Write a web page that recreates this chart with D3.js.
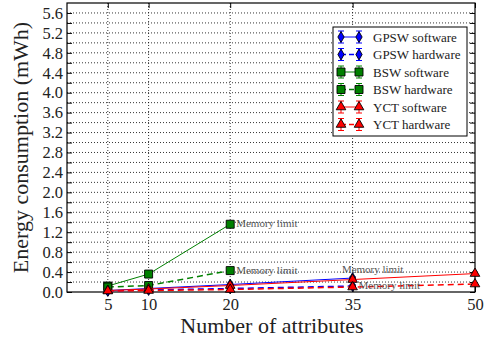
<!DOCTYPE html>
<html>
<head>
<meta charset="utf-8">
<script src="https://cdn.jsdelivr.net/npm/d3@7"></script>
<style>
  body { margin: 0; background: #fff; }
  text { font-family: "Liberation Serif", "DejaVu Serif", serif; }
</style>
</head>
<body>
<svg id="chart" width="486" height="337"></svg>
<script>
// x positions (number of attributes)
var attrs = [5, 10, 20, 35, 50];
var xTicks = [5, 10, 20, 35, 50];

// series values (mWh)
var gpswSoftware = [0.03, 0.07, 0.15, 0.28];
var gpswHardware = [0.02, 0.04, 0.07, 0.12];
var bswSoftware  = [0.12, 0.36, 1.36];
var bswHardware  = [0.10, 0.13, 0.43];
var yctSoftware  = [0.03, 0.06, 0.13, 0.25, 0.37];
var yctHardware  = [0.02, 0.03, 0.05, 0.10, 0.16];

var errSmall = 0.03;

var seriesNames = ["GPSW software", "GPSW hardware", "BSW software", "BSW hardware", "YCT software", "YCT hardware"];

// memory limit notes
var notes = [
  { x: 20, y: 1.36, side: "right" },
  { x: 20, y: 0.43, side: "right" },
  { x: 35, y: 0.28, side: "above" },
  { x: 35, y: 0.12, side: "right" }
];

var series = [
  { name: seriesNames[0], vals: gpswSoftware, color: "#0000ff", shape: "diamond", dash: null },
  { name: seriesNames[1], vals: gpswHardware, color: "#0000ff", shape: "diamond", dash: "6,4" },
  { name: seriesNames[2], vals: bswSoftware,  color: "#008000", shape: "square",  dash: null },
  { name: seriesNames[3], vals: bswHardware,  color: "#008000", shape: "square",  dash: "6,4" },
  { name: seriesNames[4], vals: yctSoftware,  color: "#ff0000", shape: "triangle", dash: null },
  { name: seriesNames[5], vals: yctHardware,  color: "#ff0000", shape: "triangle", dash: "6,4" }
];

var svg = d3.select("#chart");
var mLeft = 67, mRight = 475, mTop = 3, mBottom = 292;

var x = d3.scaleLinear().domain([0, 50]).range([mLeft, mRight]);
var y = d3.scaleLinear().domain([0, 5.8]).range([mBottom, mTop]);

var yTicks = d3.range(0, 29).map(function (i) { return +(i * 0.2).toFixed(1); });

// grid
var grid = svg.append("g");
grid.selectAll("line.gy").data(yTicks.filter(function (d) { return d > 0; }))
  .enter().append("line")
  .attr("x1", mLeft).attr("x2", mRight)
  .attr("y1", function (d) { return y(d); }).attr("y2", function (d) { return y(d); })
  .attr("stroke", "#000").attr("stroke-width", 0.8).attr("stroke-dasharray", "1,2");
grid.selectAll("line.gx").data(xTicks.filter(function (d) { return d < 50; }))
  .enter().append("line")
  .attr("y1", mTop).attr("y2", mBottom)
  .attr("x1", function (d) { return x(d); }).attr("x2", function (d) { return x(d); })
  .attr("stroke", "#000").attr("stroke-width", 0.8).attr("stroke-dasharray", "1,2");

// axes with inward ticks
var axB = svg.append("g").attr("transform", "translate(0," + mBottom + ")")
  .call(d3.axisBottom(x).tickValues(xTicks).tickSize(-5).tickPadding(6).tickFormat(d3.format("d")));
var axT = svg.append("g").attr("transform", "translate(0," + mTop + ")")
  .call(d3.axisTop(x).tickValues(xTicks).tickSize(-5).tickFormat(""));
var axL = svg.append("g").attr("transform", "translate(" + mLeft + ",0)")
  .call(d3.axisLeft(y).tickValues(yTicks).tickSize(-5).tickPadding(4)
    .tickFormat(function (d, i) { return i % 2 === 0 ? d3.format(".1f")(d) : ""; }));
var axR = svg.append("g").attr("transform", "translate(" + mRight + ",0)")
  .call(d3.axisRight(y).tickValues(yTicks).tickSize(-5).tickFormat(""));

[axB, axT, axL, axR].forEach(function (g) {
  g.select(".domain").remove();
  g.selectAll(".tick line").attr("stroke", "#000").attr("stroke-width", 1);
  g.selectAll("text").attr("font-family", "Liberation Serif, DejaVu Serif, serif")
    .attr("font-size", 16.5).attr("fill", "#222");
});

svg.append("rect").attr("x", mLeft).attr("y", mTop)
  .attr("width", mRight - mLeft).attr("height", mBottom - mTop)
  .attr("fill", "none").attr("stroke", "#000").attr("stroke-width", 1.2);

// axis titles
svg.append("text").attr("x", 272).attr("y", 333)
  .attr("text-anchor", "middle").attr("font-size", 22).attr("fill", "#222")
  .text("Number of attributes");
svg.append("text").attr("transform", "translate(28," + ((mTop + mBottom) / 2) + ") rotate(-90)")
  .attr("text-anchor", "middle").attr("font-size", 22).attr("fill", "#222")
  .text("Energy consumption (mWh)");

function marker(g, shape, color, cx, cy) {
  var s;
  if (shape === "diamond") {
    s = g.append("path").attr("d", d3.symbol(d3.symbolDiamond, 34)());
  } else if (shape === "square") {
    s = g.append("path").attr("d", d3.symbol(d3.symbolSquare, 64)());
  } else {
    s = g.append("path").attr("d", d3.symbol(d3.symbolTriangle, 40)());
  }
  s.attr("transform", "translate(" + cx + "," + cy + ")")
    .attr("fill", color).attr("stroke", "#000").attr("stroke-width", 0.9);
}

function errbar(g, color, cx, cy0, cy1) {
  g.append("line").attr("x1", cx).attr("x2", cx).attr("y1", cy0).attr("y2", cy1)
    .attr("stroke", color).attr("stroke-width", 1);
  [cy0, cy1].forEach(function (c) {
    g.append("line").attr("x1", cx - 3).attr("x2", cx + 3).attr("y1", c).attr("y2", c)
      .attr("stroke", color).attr("stroke-width", 1);
  });
}

var plot = svg.append("g");
series.forEach(function (s) {
  var pts = s.vals.map(function (v, i) { return [attrs[i], v]; });
  plot.append("path").datum(pts)
    .attr("d", d3.line().x(function (d) { return x(d[0]); }).y(function (d) { return y(d[1]); }))
    .attr("fill", "none").attr("stroke", s.color)
    .attr("stroke-width", s.dash ? 1.5 : 1)
    .attr("stroke-dasharray", s.dash);
  pts.forEach(function (p) {
    errbar(plot, s.color, x(p[0]), y(p[1] - errSmall), y(p[1] + errSmall));
    marker(plot, s.shape, s.color, x(p[0]), y(p[1]));
  });
});

// memory limit notes
notes.forEach(function (n) {
  var t = svg.append("text").attr("font-size", 11).attr("fill", "#555").text("Memory limit");
  if (n.side === "right") {
    t.attr("x", x(n.x) + 6).attr("y", y(n.y) + 3);
  } else {
    t.attr("x", x(n.x) + 20).attr("y", y(n.y) - 5).attr("text-anchor", "middle");
  }
});

// legend
var lg = svg.append("g").attr("transform", "translate(333,27)");
lg.append("rect").attr("width", 134).attr("height", 109)
  .attr("fill", "#fff").attr("stroke", "#000").attr("stroke-width", 1);
series.forEach(function (s, i) {
  var cy = 10 + i * 17.5;
  lg.append("line").attr("x1", 8).attr("x2", 26).attr("y1", cy).attr("y2", cy)
    .attr("stroke", s.color).attr("stroke-width", s.dash ? 1.5 : 1)
    .attr("stroke-dasharray", s.dash ? "5,3" : null);
  [8, 26].forEach(function (mx) {
    errbar(lg, s.color, mx, cy - 6, cy + 6);
    marker(lg, s.shape, s.color, mx, cy);
  });
  lg.append("text").attr("x", 40).attr("y", cy + 4.5)
    .attr("font-size", 13).attr("fill", "#222").text(s.name);
});
</script>
</body>
</html>
